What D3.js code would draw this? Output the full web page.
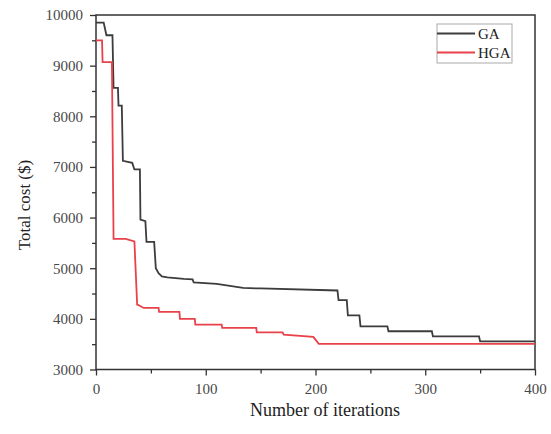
<!DOCTYPE html>
<html>
<head>
<meta charset="utf-8">
<script src="https://cdn.jsdelivr.net/npm/d3@7/dist/d3.min.js"></script>
<style>
  html, body { margin: 0; padding: 0; background: #fff; }
  svg { display: block; }
  svg text { font-family: "Liberation Serif", "DejaVu Serif", serif !important; }
</style>
</head>
<body>
<svg id="chart" width="551" height="434"></svg>
<script>
// Convergence of total cost over the iterations (vertices of the step curves)
const gaIter = [0, 7, 9.5, 15, 16, 20, 20.5, 23.5, 24.5, 29, 33, 35, 40, 40.5, 45, 46, 53, 54.5, 57, 60, 65, 80, 88, 89, 110, 134, 150, 220, 221, 228.5, 229.5, 240, 241, 265.5, 266.5, 306, 307, 349, 350, 400];
const gaCost = [9850, 9850, 9600, 9600, 8560, 8560, 8210, 8210, 7120, 7100, 7080, 6950, 6950, 5960, 5930, 5520, 5520, 5000, 4900, 4840, 4820, 4790, 4780, 4720, 4690, 4610, 4600, 4560, 4370, 4370, 4070, 4070, 3850, 3850, 3755, 3755, 3655, 3655, 3556, 3556];

const hgaIter = [0, 5.5, 6, 14.5, 16, 27, 35, 37.5, 38, 43.5, 57, 57.5, 76, 76.5, 90, 90.5, 114.5, 115, 146, 146.5, 170, 171, 198, 203, 204, 400];
const hgaCost = [9500, 9500, 9070, 9070, 5580, 5580, 5530, 4280, 4280, 4215, 4215, 4136, 4136, 3998, 3998, 3886, 3886, 3820, 3820, 3734, 3734, 3690, 3645, 3505, 3505, 3505];

const xTicks = [0, 100, 200, 300, 400];
const yTicks = [3000, 4000, 5000, 6000, 7000, 8000, 9000, 10000];
const seriesNames = ["GA", "HGA"];
const seriesColors = ["#3c3c3c", "#e8414a"];

const svg = d3.select("#chart");
svg.append("rect").attr("width", 551).attr("height", 434).attr("fill", "#fff");

const m = { left: 96, right: 535, top: 15, bottom: 369.5 };
const x = d3.scaleLinear().domain([0, 400]).range([m.left, m.right]);
const y = d3.scaleLinear().domain([3000, 10000]).range([m.bottom, m.top]);

const axisColor = "#333";
const labelColor = "#484848";
const serif = "'Liberation Serif', 'DejaVu Serif', serif";

// minor ticks
const minorX = d3.axisBottom(x).tickValues(d3.range(50, 400, 100)).tickSize(4).tickFormat("");
const minorY = d3.axisLeft(y).tickValues(d3.range(3500, 10000, 1000)).tickSize(4).tickFormat("");
svg.append("g").attr("transform", `translate(0,${m.bottom})`).call(minorX);
svg.append("g").attr("transform", `translate(${m.left},0)`).call(minorY);

// major axes
const gx = svg.append("g").attr("transform", `translate(0,${m.bottom})`)
  .call(d3.axisBottom(x).tickValues(xTicks).tickSize(6).tickPadding(8).tickSizeOuter(0));
const gy = svg.append("g").attr("transform", `translate(${m.left},0)`)
  .call(d3.axisLeft(y).tickValues(yTicks).tickSize(6).tickPadding(7).tickSizeOuter(0).tickFormat(d3.format("d")));

svg.selectAll("g").attr("font-family", serif);
svg.selectAll(".domain").attr("stroke", "none");
svg.selectAll(".tick line").attr("stroke", axisColor).attr("stroke-width", 1.3);
gx.selectAll("text").attr("fill", labelColor).attr("font-size", 15).style("font-family", serif);
gy.selectAll("text").attr("fill", labelColor).attr("font-size", 15).style("font-family", serif);

// frame
svg.append("rect")
  .attr("x", m.left).attr("y", m.top)
  .attr("width", m.right - m.left).attr("height", m.bottom - m.top)
  .attr("fill", "none").attr("stroke", axisColor).attr("stroke-width", 1.5);

// curves
const line = d3.line().x(d => x(d[0])).y(d => y(d[1]));
const series = [
  d3.zip(gaIter, gaCost),
  d3.zip(hgaIter, hgaCost)
];
series.forEach((pts, i) => {
  svg.append("path")
    .datum(pts)
    .attr("d", line)
    .attr("fill", "none")
    .attr("stroke", seriesColors[i])
    .attr("stroke-width", 1.8)
    .attr("stroke-linejoin", "miter");
});

// axis titles
svg.append("text")
  .attr("x", 325).attr("y", 416)
  .attr("text-anchor", "middle").attr("font-size", 18).attr("fill", "#222")
  .text("Number of iterations");
svg.append("text")
  .attr("transform", "translate(30,205) rotate(-90)")
  .attr("text-anchor", "middle").attr("font-size", 17).attr("fill", "#222")
  .text("Total cost ($)");

// legend
const lg = svg.append("g");
lg.append("rect").attr("x", 437).attr("y", 24).attr("width", 75).attr("height", 39)
  .attr("fill", "#fff").attr("stroke", "#aaa").attr("stroke-width", 1);
seriesNames.forEach((name, i) => {
  const yy = 33.5 + i * 19;
  lg.append("line").attr("x1", 437).attr("x2", 475).attr("y1", yy).attr("y2", yy)
    .attr("stroke", seriesColors[i]).attr("stroke-width", 1.8);
  lg.append("text").attr("x", 478).attr("y", yy + 5).attr("font-size", 15).attr("fill", "#222").text(name);
});
</script>
</body>
</html>
